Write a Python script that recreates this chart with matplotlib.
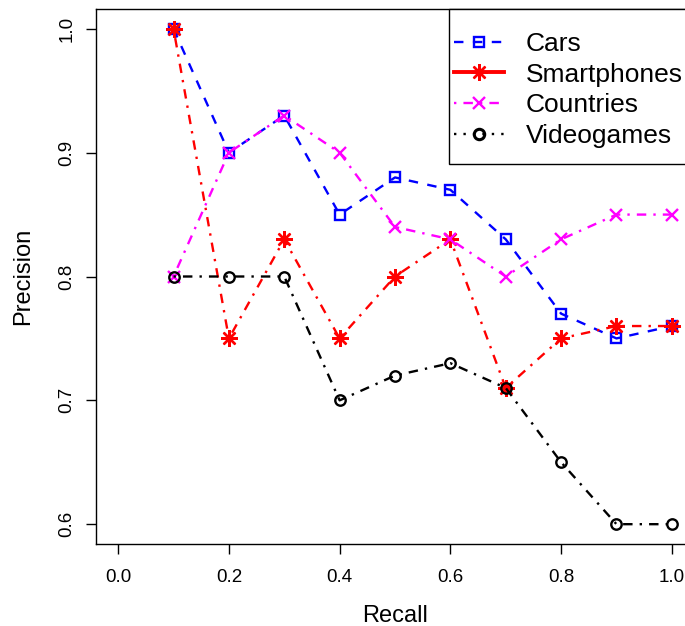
"""Precision / recall curves for the four query sets."""

import matplotlib
matplotlib.use('Agg')
import matplotlib.pyplot as plt
from matplotlib.lines import Line2D
from matplotlib.patches import Rectangle

plt.rcParams['font.family'] = ['Liberation Sans', 'DejaVu Sans']

recall = [0.1, 0.2, 0.3, 0.4, 0.5, 0.6, 0.7, 0.8, 0.9, 1.0]
cars = [1.00, 0.90, 0.93, 0.85, 0.88, 0.87, 0.83, 0.77, 0.75, 0.76]
smartphones = [1.00, 0.75, 0.83, 0.75, 0.80, 0.83, 0.71, 0.75, 0.76, 0.76]
countries = [0.80, 0.90, 0.93, 0.90, 0.84, 0.83, 0.80, 0.83, 0.85, 0.85]
videogames = [0.80, 0.80, 0.80, 0.70, 0.72, 0.73, 0.71, 0.65, 0.60, 0.60]

names = ['Cars', 'Smartphones', 'Countries', 'Videogames']
xticks = [0.0, 0.2, 0.4, 0.6, 0.8, 1.0]
yticks = [0.6, 0.7, 0.8, 0.9, 1.0]

dashed = (4, 4)
dotdash = (1, 3, 4, 3)
dotted = (1, 3)
lw = 1.7
mew = 1.7

W, H = 685, 626
fig = plt.figure(figsize=(W / 100, H / 100), dpi=100)
ax = fig.add_axes([96 / W, (H - 544) / H, (694 - 96) / W, (544 - 9) / H])

styles = [
    (cars, 'blue', 's', 7.5, dashed),
    (smartphones, 'red', (8, 2, 0), 12, dotdash),
    (countries, 'magenta', 'x', 9, dotdash),
    (videogames, 'black', 'o', 7.5, dotdash),
]
for vals, col, mk, ms, dash in styles:
    ax.plot(recall, vals, color=col, lw=lw, dashes=dash, marker=mk, ms=ms,
            mfc='none', mec=col, mew=mew, clip_on=False)

ax.set_xlim(-0.04, 1.04)
ax.set_ylim(0.584, 1.016)
ax.set_xticks(xticks)
ax.set_xticklabels(['{:.1f}'.format(v) for v in xticks], fontsize=13.5)
ax.set_yticks(yticks)
ax.set_yticklabels(['{:.1f}'.format(v) for v in yticks], fontsize=13.5,
                   rotation=90, va='center')
ax.tick_params(direction='out', length=7, width=1, pad=8)
ax.tick_params(axis='x', pad=11)
for sp in ax.spines.values():
    sp.set_linewidth(1)
ax.set_xlabel('Recall', fontsize=17, labelpad=14)
ax.set_ylabel('Precision', fontsize=17, labelpad=17)

# legend box (R style: "topright", box runs off the right edge)
ax.add_patch(Rectangle((449 / W, 1 - 164 / H), (694 - 449) / W, (164 - 9) / H,
                       transform=fig.transFigure, fc='white', ec='black',
                       lw=1, zorder=4.5, clip_on=False))
handles = [
    Line2D([], [], color='blue', lw=lw, dashes=dashed, marker='s', ms=7.5,
           mfc='none', mew=mew),
    Line2D([], [], color='red', lw=2.8, marker=(8, 2, 0), ms=12, mew=mew),
    Line2D([], [], color='magenta', lw=lw, dashes=dotdash, marker='x', ms=9,
           mew=mew),
    Line2D([], [], color='black', lw=lw, dashes=dotted, marker='o', ms=7.5,
           mfc='none', mew=2.2),
]
leg = ax.legend(handles, names, loc='upper right', borderaxespad=0,
                bbox_to_anchor=(683 / W, 1 - 32 / H),
                bbox_transform=fig.transFigure, borderpad=0,
                fontsize=19, frameon=False, handlelength=1.9,
                handletextpad=0.83, labelspacing=0.25)
leg.set_zorder(5)

fig.savefig('out.png', dpi=100)
